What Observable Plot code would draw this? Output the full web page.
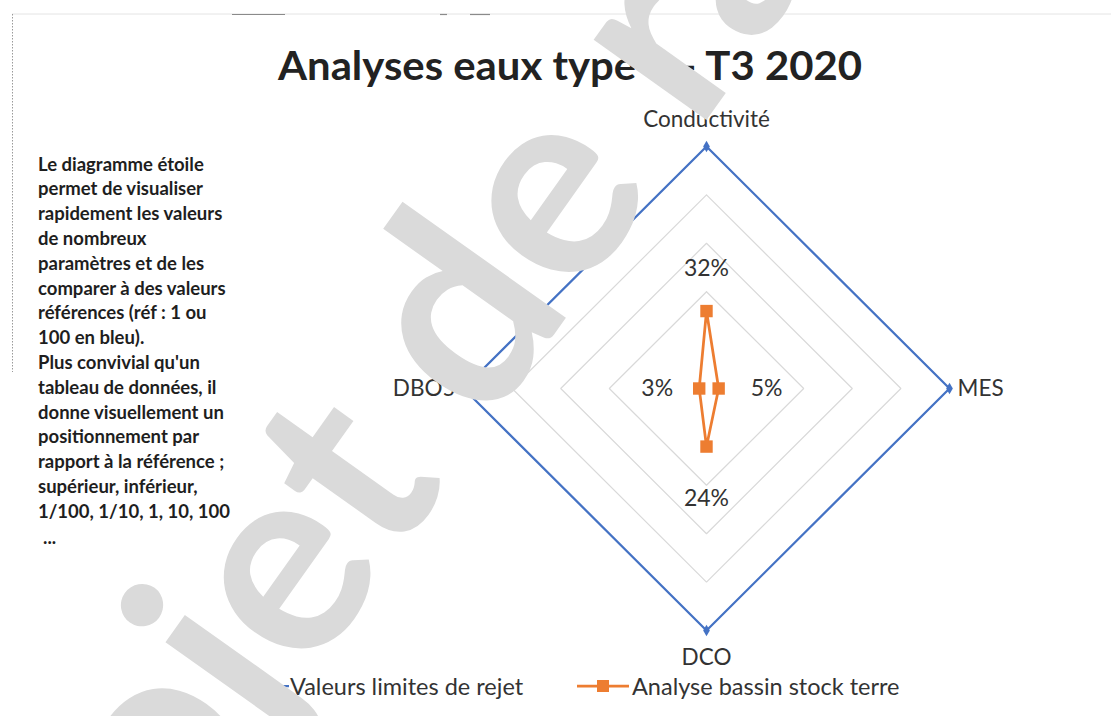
<!DOCTYPE html>
<html>
<head>
<meta charset="utf-8">
<script src="https://cdn.jsdelivr.net/npm/d3@7"></script>
<script src="https://cdn.jsdelivr.net/npm/@observablehq/plot@0.6"></script>
<style>
  html, body { margin: 0; padding: 0; background: #fff; }
  #page { position: relative; width: 1111px; height: 716px; overflow: hidden; background: #fff; font-family: Lato, "Open Sans", sans-serif; }
  #frame, #titleSvg, #chart, #wm { position: absolute; left: 0; top: 0; }
  #note { position: absolute; left: 38px; top: 151.6px; font-weight: 700; font-size: 18.5px; line-height: 24.8px; color: #1e1e1e; white-space: nowrap; }
  #note .last { padding-left: 5px; line-height: 26px; }
  .leg { position: absolute; top: 673px; height: 26px; line-height: 26px; font-size: 23.5px; color: #333; white-space: nowrap; }
  .sw { position: absolute; top: 676px; }
  #wm { pointer-events: none; }
</style>
</head>
<body>
<div id="page">
  <svg id="frame" width="1111" height="716"></svg>
  <svg id="titleSvg" width="1111" height="110"></svg>
  <div id="chart"></div>
  <div id="note"></div>
  <div id="legend"></div>
  <svg id="wm" width="1111" height="716"></svg>
</div>
<script>
// ---------------- data ----------------
const chartTitle = "Analyses eaux type 1 - T3 2020";
const axes = ["Conductivité", "MES", "DCO", "DBO5"];
const limitValues = [100, 100, 100, 100];
const analysisValues = [32, 5, 24, 3];
const analysisLabels = ["32%", "5%", "24%", "3%"];
const gridLevels = [40, 60, 80];
const seriesNames = ["Valeurs limites de rejet", "Analyse bassin stock terre"];
const noteLines = [
  "Le diagramme étoile",
  "permet de visualiser",
  "rapidement les valeurs",
  "de nombreux",
  "paramètres et de les",
  "comparer à des valeurs",
  "références (réf : 1 ou",
  "100 en bleu).",
  "Plus convivial qu'un",
  "tableau de données, il",
  "donne visuellement un",
  "positionnement par",
  "rapport à la référence ;",
  "supérieur, inférieur,",
  "1/100, 1/10, 1, 10, 100",
  "..."
];
const watermarkText = "Projet de rapport";

// ---------------- colours / styles ----------------
const BLUE = "#4472C4", ORANGE = "#ED7D31", GRID = "#d9d9d9", LABEL = "#333333";
const FONT = "Lato, 'Open Sans', sans-serif";

// ---------------- frame ----------------
const frame = d3.select("#frame");
frame.append("line").attr("x1", 12).attr("y1", 14).attr("x2", 1111).attr("y2", 14).attr("stroke", "#e4e4e4").attr("stroke-width", 1);
frame.append("line").attr("x1", 12.5).attr("y1", 14).attr("x2", 12.5).attr("y2", 372).attr("stroke", "#9a9a9a").attr("stroke-width", 1).attr("stroke-dasharray", "1.5,1.5");
[[232, 285], [440, 447], [470, 490]].forEach(([a, b]) =>
  frame.append("line").attr("x1", a).attr("y1", 14.5).attr("x2", b).attr("y2", 14.5).attr("stroke", "#8a8a8a").attr("stroke-width", 1.2));

// ---------------- title ----------------
d3.select("#titleSvg").append("text")
  .attr("x", 570).attr("y", 80)
  .attr("text-anchor", "middle")
  .attr("font-family", FONT).attr("font-weight", 700).attr("font-size", 40)
  .attr("fill", "#222")
  .attr("textLength", 584).attr("lengthAdjust", "spacingAndGlyphs")
  .text(chartTitle);

// ---------------- note ----------------
const note = d3.select("#note");
noteLines.forEach((l, i) => note.append("div").attr("class", i === noteLines.length - 1 ? "last" : null).text(l));

// ---------------- radar ----------------
const ang = i => i * Math.PI / 2; // clockwise from top
const pt = (i, v) => ({x: v * Math.sin(ang(i)), y: v * Math.cos(ang(i))});

const ringData = gridLevels.flatMap(lv => [0, 1, 2, 3, 0].map(i => ({...pt(i, lv), ring: lv})));
const limitPts = axes.map((a, i) => ({...pt(i, limitValues[i]), axis: a, i}));
const limitLoop = [...limitPts, limitPts[0]];
const anaPts = axes.map((a, i) => ({...pt(i, analysisValues[i]), axis: a, label: analysisLabels[i], i}));
const anaLoop = [...anaPts, anaPts[0]];

const dirs = [[0, -1], [1, 0], [0, 1], [-1, 0]];
const axisLabelOffset = [27, 8, 27, 8];
const axisAnchor = ["middle", "start", "middle", "end"];
const dataLabelOffset = [42, 48, 52, 42];

const axisLabelMarks = limitPts.map((p, k) => Plot.text([p], {
  x: "x", y: "y", text: "axis",
  dx: dirs[k][0] * axisLabelOffset[k], dy: dirs[k][1] * axisLabelOffset[k],
  textAnchor: axisAnchor[k], fontSize: 22.5, fill: LABEL, fontFamily: FONT
}));
const dataLabelMarks = anaPts.map((p, k) => Plot.text([p], {
  x: "x", y: "y", text: "label",
  dx: dirs[k][0] * dataLabelOffset[k], dy: dirs[k][1] * dataLabelOffset[k],
  textAnchor: "middle", fontSize: 23, fill: LABEL, fontFamily: FONT
}));

const chart = Plot.plot({
  width: 1111,
  height: 716,
  margin: 0,
  x: {domain: [-100, 100], range: [463, 949], axis: null},
  y: {domain: [-100, 100], range: [630, 146], axis: null},
  style: {background: "transparent", overflow: "visible", fontFamily: FONT},
  marks: [
    Plot.line(ringData, {x: "x", y: "y", z: "ring", stroke: GRID, strokeWidth: 1.2, strokeLinejoin: "miter"}),
    Plot.line(limitLoop, {x: "x", y: "y", stroke: BLUE, strokeWidth: 2.25, strokeLinejoin: "miter"}),
    Plot.dot(limitPts, {x: "x", y: "y", symbol: "diamond", r: 3.5, fill: BLUE}),
    Plot.line(anaLoop, {x: "x", y: "y", stroke: ORANGE, strokeWidth: 2.75, strokeLinejoin: "miter"}),
    Plot.dot(anaPts, {x: "x", y: "y", symbol: "square", r: 7, fill: ORANGE}),
    ...axisLabelMarks,
    ...dataLabelMarks
  ]
});
document.getElementById("chart").appendChild(chart);

// ---------------- legend ----------------
const legend = d3.select("#legend");
const legItems = [
  {name: seriesNames[0], color: BLUE, symbol: "diamond", swLeft: 233, swW: 56, textLeft: 290},
  {name: seriesNames[1], color: ORANGE, symbol: "square", swLeft: 577, swW: 52, textLeft: 632}
];
legItems.forEach(it => {
  const sw = legend.append("svg").attr("class", "sw").attr("width", it.swW).attr("height", 20)
    .style("left", it.swLeft + "px");
  sw.append("line").attr("x1", 0).attr("x2", it.swW).attr("y1", 10).attr("y2", 10)
    .attr("stroke", it.color).attr("stroke-width", it.symbol === "square" ? 2.75 : 2.25);
  if (it.symbol === "square") {
    sw.append("rect").attr("x", it.swW / 2 - 6).attr("y", 4).attr("width", 12).attr("height", 12).attr("fill", it.color);
  } else {
    sw.append("path").attr("d", d3.symbol(d3.symbolDiamond, 40)()).attr("transform", `translate(${it.swW / 2},10)`).attr("fill", it.color);
  }
  legend.append("div").attr("class", "leg").style("left", it.textLeft + "px").text(it.name);
});

// ---------------- watermark ----------------
// fitted so that the two "e" glyphs ("Projet" / "de") sit where the reference shows them
const WM_BASE = 250, E1 = [292, 582], E2 = [560, 205];
const wm = d3.select("#wm").append("text")
  .attr("font-family", FONT).attr("font-weight", 700).attr("font-size", WM_BASE)
  .attr("fill", "#dadada").text(watermarkText);
const node = wm.node();
const charCenter = idx => node.getSubStringLength(0, idx) + node.getSubStringLength(idx, 1) / 2;
const baseDist = charCenter(8) - charCenter(4);
const targetDist = Math.hypot(E2[0] - E1[0], E2[1] - E1[1]);
const fs = WM_BASE * targetDist / baseDist;
const rot = Math.atan2(E2[1] - E1[1], E2[0] - E1[0]);
wm.attr("font-size", fs);
const lx = charCenter(4), ly = -0.26 * fs;
const rx = lx * Math.cos(rot) - ly * Math.sin(rot), ry = lx * Math.sin(rot) + ly * Math.cos(rot);
wm.attr("transform", `translate(${E1[0] - rx},${E1[1] - ry}) rotate(${rot * 180 / Math.PI})`);
</script>
</body>
</html>
